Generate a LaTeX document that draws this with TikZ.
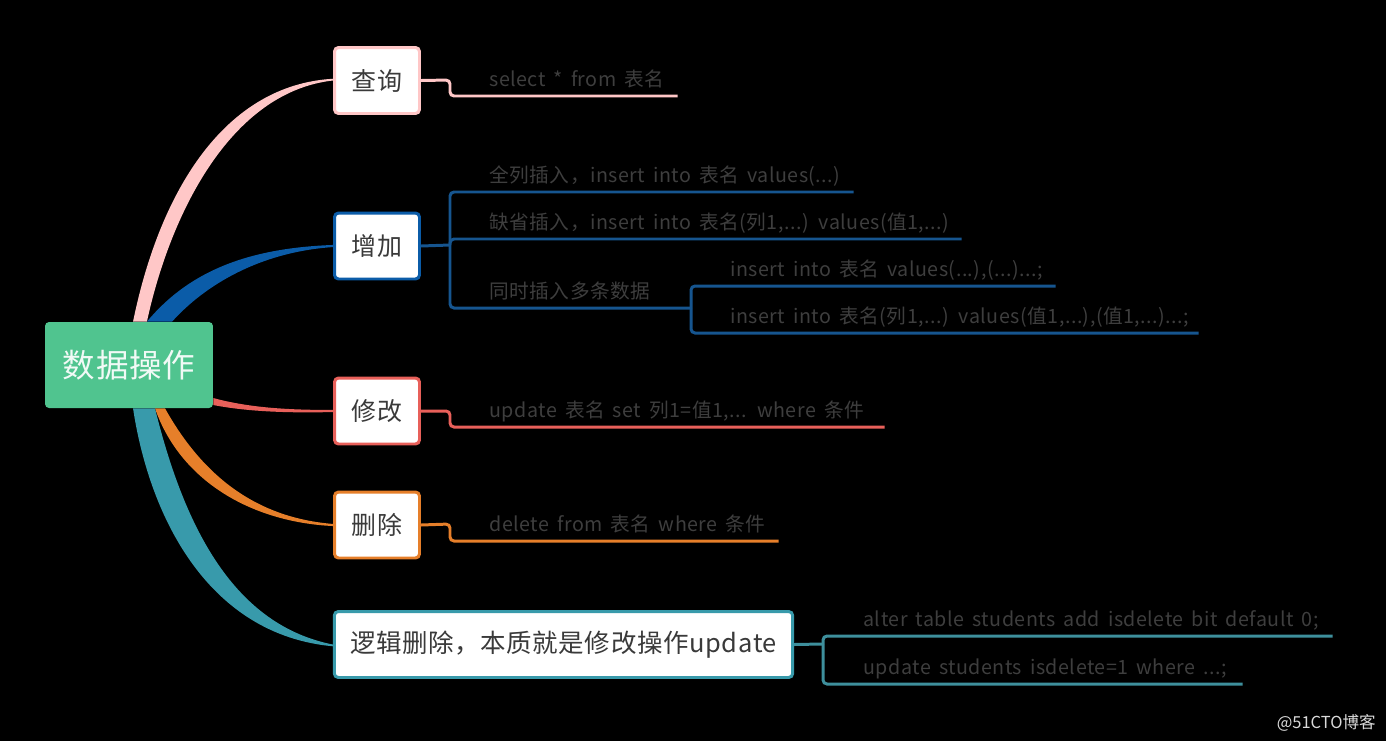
\documentclass[tikz,border=0pt]{standalone}
\usepackage{fontspec}
\setmainfont[LetterSpace=2.5]{Noto Sans CJK SC}
\newfontfamily\markfont{Noto Sans CJK SC}
\usetikzlibrary{backgrounds}
\definecolor{rootgreen}{HTML}{50C48F}
\definecolor{querypink}{HTML}{FFC7C7}
\definecolor{addblue}{HTML}{0B5CA8}
\definecolor{addline}{HTML}{16558F}
\definecolor{editred}{HTML}{E8605A}
\definecolor{deloran}{HTML}{E67F2A}
\definecolor{logicteal}{HTML}{389AAB}
\definecolor{logicline}{HTML}{3E8F9C}
\definecolor{leafgray}{HTML}{3E3E3E}
\definecolor{topicgray}{HTML}{3A3A3A}
\begin{document}
\begin{tikzpicture}[x=0.02cm,y=-0.02cm,
	rootbox/.style={fill=rootgreen,rounded corners=2.3pt,minimum width=3.36cm,minimum height=1.72cm,text=white!92!rootgreen,font=\fontsize{18.5}{22}\selectfont},
	topicbox/.style={draw=#1,fill=white,line width=1.7pt,rounded corners=2.3pt,minimum height=1.32cm,inner xsep=0pt,text=topicgray,font=\fontsize{14.2}{17}\selectfont},
	leaf/.style={anchor=south west,inner sep=0pt,align=left,text=leafgray,text height=0.32cm,text depth=0.18cm,font=\fontsize{11.2}{13}\selectfont},
	twig/.style={draw=#1,line width=1.7pt,rounded corners=2.3pt}]
	\useasboundingbox (0,0) rectangle (1386,741);
	\node[rootbox] (root) at (129,365) {数据操作};
	% topics
	\foreach \name/\ypos/\col/\wtext in {query/80.5/querypink/查询,add/246/addblue/增加,edit/411/editred/修改,del/525/deloran/删除}
	\node[topicbox=\col,minimum width=1.7cm] (\name) at (377,\ypos) {\wtext};
	\node[topicbox=logicteal,minimum width=9.17cm,font=\fontsize{14.5}{17}\selectfont] (logic) at (563.5,644.5) {逻辑删除，本质就是修改操作update};
	% leaves, text width = length of the line under the text
	\foreach \name/\xpos/\ypos/\wide/\wtext in {
		sel/489/96/188/{select * from 表名},
		all/489/192/364/{全列插入，insert into 表名 values(...)},
		part/489/239/472/{缺省插入，insert into 表名(列1,...) values(值1,...)},
		many/489/308/202/{同时插入多条数据},
		manya/730/286/325/{insert into 表名 values(...),(...)...;},
		manyb/730/333/468/{insert into 表名(列1,...) values(值1,...),(值1,...)...;},
		upd/489/427/395/{update 表名 set 列1=值1,... where 条件},
		rem/489/541/289/{delete from 表名 where 条件},
		alt/863/636/469/{alter table students add isdelete bit default 0;},
		mark/863/684/379/{update students isdelete=1 where ...;}}
	\node[leaf,text width=\wide*0.02cm] (\name) at (\xpos,\ypos) {\spaceskip=4.6pt \wtext};
	\node[anchor=east,inner sep=0pt,text=white!85!black,font=\markfont\fontsize{9.4}{11}\selectfont] (stamp) at (1376,723) {@51CTO博客};
	% elbows
	\coordinate (elbowq) at (450,80);
	\coordinate (elbowa) at (450,245);
	\coordinate (elbowm) at (691,308);
	\coordinate (elbowe) at (450,411);
	\coordinate (elbowd) at (450,524);
	\coordinate (elbowl) at (823,644);
	\draw[twig=querypink] (query.east) -- (elbowq) |- (sel.south west) -- (sel.south east);
	\draw[twig=addline] (add.east) -- (elbowa);
	\draw[twig=addline] (elbowa) |- (all.south west) -- (all.south east);
	\draw[twig=addline] (elbowa) |- (part.south west) -- (part.south east);
	\draw[twig=addline] (elbowa) |- (many.south west) -- (many.south east);
	\draw[twig=addline] (elbowm) |- (manya.south west) -- (manya.south east);
	\draw[twig=addline] (elbowm) |- (manyb.south west) -- (manyb.south east);
	\draw[twig=editred] (edit.east) -- (elbowe) |- (upd.south west) -- (upd.south east);
	\draw[twig=deloran] (del.east) -- (elbowd) |- (rem.south west) -- (rem.south east);
	\draw[twig=logicline] (logic.east) -- (elbowl);
	\draw[twig=logicline] (elbowl) |- (alt.south west) -- (alt.south east);
	\draw[twig=logicline] (elbowl) |- (mark.south west) -- (mark.south east);
	% tapered branches behind the boxes
	\begin{scope}[on background layer]
	\fill[black] (0,0) rectangle (1386,741);
	\fill[addblue] ([xshift=10.2pt]root.north) .. controls (190,270) and (250,248) .. ([yshift=0.6pt]add.west)
		-- ([yshift=-0.6pt]add.west) .. controls (260,252) and (205,285) .. ([xshift=24.5pt]root.north) -- cycle;
	\fill[querypink] ([xshift=2.3pt]root.north) .. controls (160,190) and (225,85) .. ([yshift=1pt]query.west)
		-- ([yshift=0pt]query.west) .. controls (230,92) and (170,215) .. ([xshift=10.2pt]root.north) -- cycle;
	\fill[editred] ([yshift=-18.8pt]root.east) .. controls (250,408) and (290,410) .. ([yshift=0.6pt]edit.west)
		-- ([yshift=-0.6pt]edit.west) .. controls (290,413) and (250,412) .. ([yshift=-22.8pt]root.east) -- cycle;
	\fill[deloran] ([xshift=14.8pt]root.south) .. controls (180,480) and (250,522) .. ([yshift=-0.6pt]del.west)
		-- ([yshift=0.6pt]del.west) .. controls (260,518) and (205,480) .. ([xshift=20.5pt]root.south) -- cycle;
	\fill[logicteal] ([xshift=2.3pt]root.south) .. controls (150,520) and (210,635) .. ([yshift=-1pt]logic.west)
		-- ([yshift=0pt]logic.west) .. controls (235,625) and (185,530) .. ([xshift=14.8pt]root.south) -- cycle;
	\end{scope}
\end{tikzpicture}
\end{document}
